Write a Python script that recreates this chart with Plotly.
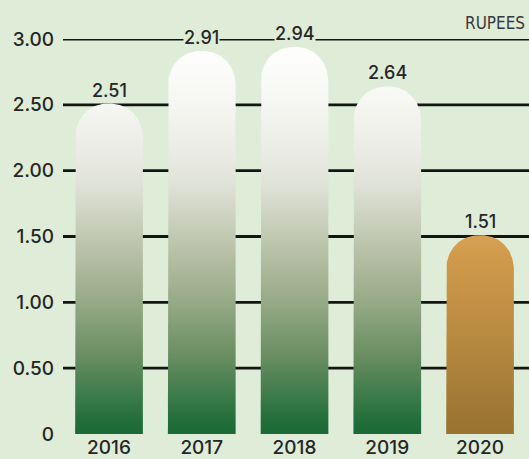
import numpy as np
import plotly.graph_objects as go

# Data
years = ["2016", "2017", "2018", "2019", "2020"]
values = [2.51, 2.91, 2.94, 2.64, 1.51]
y_ticks = [0, 0.5, 1.0, 1.5, 2.0, 2.5, 3.0]
y_tick_labels = ["0", "0.50", "1.00", "1.50", "2.00", "2.50", "3.00"]
unit_label = "RUPEES"

BG = "#deecd8"
TEXT = "#262626"
FONT = "Inter"
WEIGHT = 500

green_scale = [
    [0.00, "#1b6a36"],
    [0.03, "#206e3a"],
    [0.20, "#6a8e62"],
    [0.33, "#95a985"],
    [0.47, "#bac2aa"],
    [0.63, "#dfe2d6"],
    [0.72, "#ecece6"],
    [0.85, "#f7f7f3"],
    [1.00, "#ffffff"],
]
gold_scale = [
    [0.00, "#98722f"],
    [0.50, "#b88a42"],
    [0.90, "#d19a4b"],
    [1.00, "#d7a256"],
]

half_w = 0.365     # half bar width in category units
cap_h = 0.27       # height of the rounded top, in axis units
cap_exp = 2.15     # superellipse exponent for the cap


def bar_outline(xc, v):
    """Closed outline of a bar with a rounded top whose apex sits at v."""
    shoulder = v - cap_h
    t = np.linspace(np.pi, 0, 80)
    c, s = np.cos(t), np.sin(t)
    cx = xc + half_w * np.sign(c) * np.abs(c) ** (2 / cap_exp)
    cy = shoulder + cap_h * np.abs(s) ** (2 / cap_exp)
    xs = [xc - half_w] + list(cx) + [xc + half_w, xc - half_w]
    ys = [0] + list(cy) + [0, 0]
    return xs, ys


fig = go.Figure()

for i, (yr, v) in enumerate(zip(years, values)):
    last = i == len(years) - 1
    xs, ys = bar_outline(i, v)
    fig.add_trace(go.Scatter(
        x=xs, y=ys, mode="lines", fill="toself",
        line=dict(width=0, color="rgba(0,0,0,0)"),
        fillgradient=dict(
            type="vertical",
            colorscale=gold_scale if last else green_scale,
            start=0, stop=(v if last else 3.0),
        ),
        hoverinfo="skip", showlegend=False,
    ))
    fig.add_annotation(
        x=i, y=v, text=f"{v:.2f}", showarrow=False,
        yanchor="bottom", yshift=2,
        font=dict(family=FONT, size=18, color=TEXT, weight=WEIGHT),
        bgcolor=BG, borderpad=0,
    )

# Horizontal rules at each labelled level above zero
for t in y_ticks:
    if t > 0:
        fig.add_shape(
            type="line", xref="paper", x0=0, x1=1, yref="y", y0=t, y1=t,
            line=dict(color="#141414", width=2.8), layer="below",
        )

fig.add_annotation(
    xref="paper", yref="paper", x=1, y=1, xanchor="right", yanchor="bottom",
    yshift=4, xshift=-2, text=unit_label, showarrow=False,
    font=dict(family="DejaVu Sans Condensed", size=17, color="#3a3a3a"),
)

fig.update_layout(
    width=529, height=459,
    margin=dict(l=63, r=0, t=39, b=25),
    paper_bgcolor=BG, plot_bgcolor=BG,
    font=dict(family=FONT, size=19, color=TEXT),
    xaxis=dict(
        range=[-0.496, 4.528], tickvals=list(range(len(years))), ticktext=years,
        showgrid=False, zeroline=False, showline=False, ticks="",
        tickfont=dict(family=FONT, size=19, color=TEXT, weight=WEIGHT), fixedrange=True,
    ),
    yaxis=dict(
        range=[0, 3.0], tickvals=y_ticks, ticktext=y_tick_labels,
        showgrid=False, zeroline=False, showline=False, ticks="",
        ticklabelstandoff=8,
        tickfont=dict(family=FONT, size=19, color=TEXT, weight=WEIGHT), fixedrange=True,
    ),
)

fig.write_html("out.html")
